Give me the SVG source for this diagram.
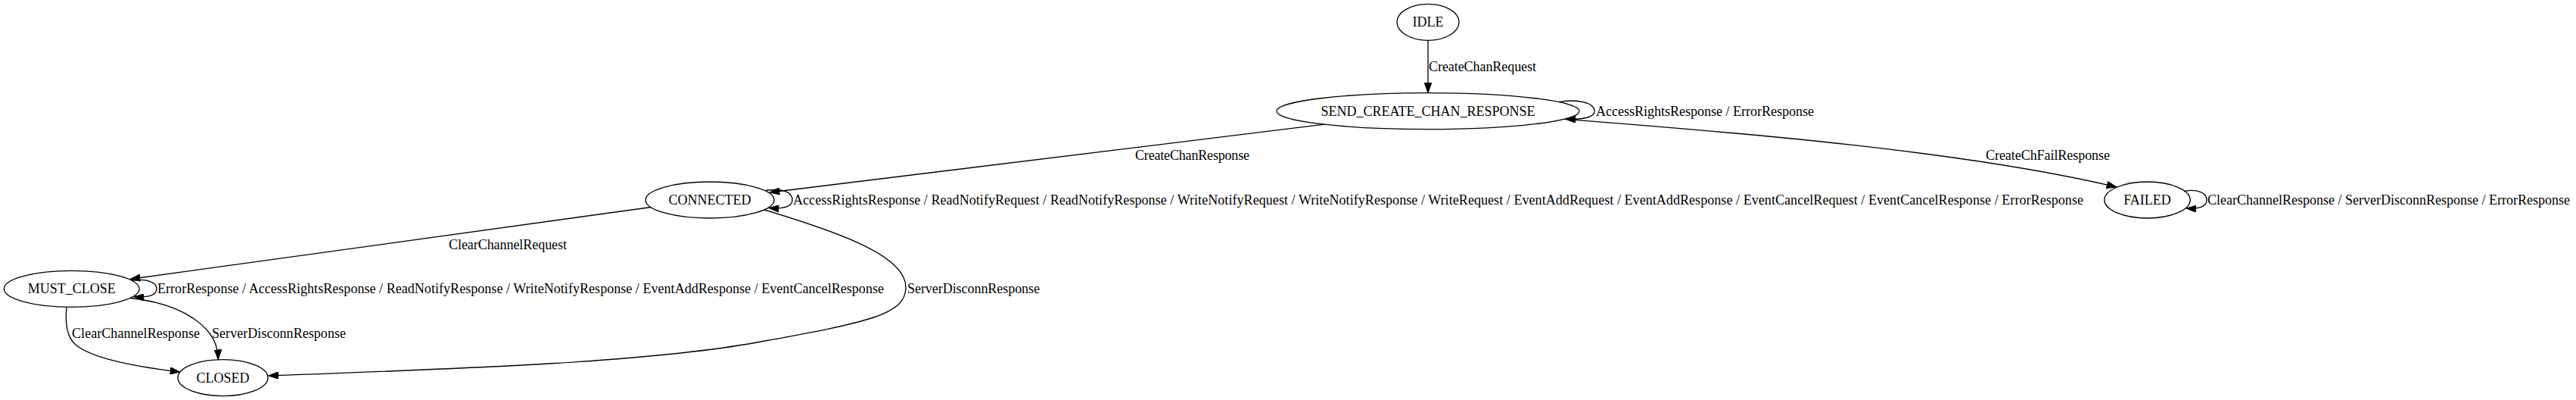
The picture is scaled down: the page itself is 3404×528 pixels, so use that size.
<svg xmlns="http://www.w3.org/2000/svg" width="3404" height="528" viewBox="0 0 3404 528">
<style>
.node ellipse{fill:none;stroke:#000;stroke-width:1.33}
.node text{font-family:"Liberation Serif","Times New Roman",serif;font-size:18px;fill:#000;text-anchor:middle}
#edges path{fill:none;stroke:#000;stroke-width:1.33;marker-end:url(#arr)}
.lbl{font-family:"Liberation Serif","Times New Roman",serif;font-size:18px;fill:#000}
</style>
<defs>
<marker id="arr" markerUnits="userSpaceOnUse" viewBox="0 0 13.3 9.4" markerWidth="13.3" markerHeight="9.4" refX="13.3" refY="4.7" orient="auto">
<path d="M0,0 L13.3,4.7 L0,9.4 Z" fill="#000" stroke="#000" stroke-width="1"/>
</marker>
</defs>
<rect width="3404" height="528" fill="#fff"/>
<g id="IDLE" class="node"><ellipse cx="1887" cy="29.3" rx="41" ry="24"/><text x="1887" y="35.3">IDLE</text></g>
<g id="SEND_CREATE_CHAN_RESPONSE" class="node"><ellipse cx="1887" cy="146.7" rx="200" ry="24"/><text x="1887" y="152.7">SEND_CREATE_CHAN_RESPONSE</text></g>
<g id="CONNECTED" class="node"><ellipse cx="938" cy="264" rx="85" ry="24"/><text x="938" y="270">CONNECTED</text></g>
<g id="FAILED" class="node"><ellipse cx="2837.5" cy="264" rx="56.7" ry="24"/><text x="2837.5" y="270">FAILED</text></g>
<g id="MUST_CLOSE" class="node"><ellipse cx="94.7" cy="381.3" rx="89.4" ry="24"/><text x="94.7" y="387.3">MUST_CLOSE</text></g>
<g id="CLOSED" class="node"><ellipse cx="294.5" cy="498.7" rx="59.5" ry="24"/><text x="294.5" y="504.7">CLOSED</text></g>
<g id="edges">
<path d="M1887,53.3 L1887,122.7"/>
<path d="M2060,134.7 C2085,130 2107,136 2107,146.7 C2107,154 2095,158 2069,157.3"/>
<path d="M1750,164.2 L1017,254"/>
<path d="M2068,157.3 C2300,175 2600,200 2797,247"/>
<path d="M1012,251.5 C1035,248 1047,254 1047,264 C1047,272 1037,276 1016,274.5"/>
<path d="M2886,252.5 C2905,249 2916,255 2916,264 C2916,272 2908,276 2889,275"/>
<path d="M860,273.5 L172,368.5"/>
<path d="M1010,277 C1120,310 1198,340 1197,380 C1196,415 1150,425 1000,452 C850,479 600,487 354.5,496"/>
<path d="M174,370.5 C194,367 207,373 207,381.3 C207,389 198,393 177,391.8"/>
<path d="M88,405.3 C86,425 88,445 100,455 C120,472 170,483 238,491"/>
<path d="M172,393.5 C215,398 255,412 277,440 C285,450 288,462 288.3,474.8"/>
<text class="lbl" x="1888" y="94" textLength="142">CreateChanRequest</text>
<text class="lbl" x="2109" y="152.7" textLength="288">AccessRightsResponse / ErrorResponse</text>
<text class="lbl" x="1500" y="211.3" textLength="151">CreateChanResponse</text>
<text class="lbl" x="2624" y="211.3" textLength="164">CreateChFailResponse</text>
<text class="lbl" x="1048" y="270" textLength="1705">AccessRightsResponse / ReadNotifyRequest / ReadNotifyResponse / WriteNotifyRequest / WriteNotifyResponse / WriteRequest / EventAddRequest / EventAddResponse / EventCancelRequest / EventCancelResponse / ErrorResponse</text>
<text class="lbl" x="2917" y="270" textLength="479">ClearChannelResponse / ServerDisconnResponse / ErrorResponse</text>
<text class="lbl" x="593" y="328.7" textLength="156">ClearChannelRequest</text>
<text class="lbl" x="1199" y="387.3" textLength="175">ServerDisconnResponse</text>
<text class="lbl" x="208" y="387.3" textLength="960">ErrorResponse / AccessRightsResponse / ReadNotifyResponse / WriteNotifyResponse / EventAddResponse / EventCancelResponse</text>
<text class="lbl" x="95" y="446" textLength="169">ClearChannelResponse</text>
<text class="lbl" x="280" y="446" textLength="177">ServerDisconnResponse</text>
</g>
</svg>
